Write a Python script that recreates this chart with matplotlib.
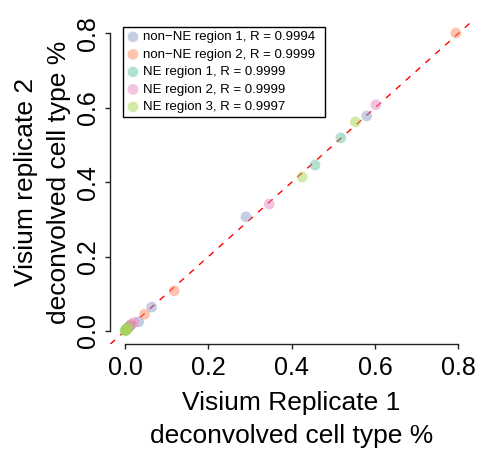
import matplotlib
matplotlib.use('Agg')
import matplotlib.pyplot as plt

plt.rcParams['font.family'] = ['Liberation Sans', 'DejaVu Sans']

# deconvolved cell type fractions, replicate 1 (x) vs replicate 2 (y)
region_labels = [
    'non\u2212NE region 1, R = 0.9994',
    'non\u2212NE region 2, R = 0.9999',
    'NE region 1, R = 0.9999',
    'NE region 2, R = 0.9999',
    'NE region 3, R = 0.9997',
]
region_colors = ['#8DA0CB', '#FC8D62', '#66C2A5', '#E78AC3', '#A6D854']

nonne1_x = [0.580, 0.290, 0.064, 0.033, 0.012, 0.005, 0.002]
nonne1_y = [0.578, 0.307, 0.064, 0.025, 0.014, 0.006, 0.003]
nonne2_x = [0.794, 0.118, 0.047, 0.015, 0.008, 0.003]
nonne2_y = [0.801, 0.108, 0.045, 0.018, 0.009, 0.003]
ne1_x = [0.518, 0.456, 0.010, 0.004, 0.002]
ne1_y = [0.519, 0.446, 0.012, 0.005, 0.002]
ne2_x = [0.602, 0.346, 0.022, 0.013, 0.006]
ne2_y = [0.608, 0.341, 0.023, 0.015, 0.007]
ne3_x = [0.553, 0.425, 0.008, 0.004, 0.001, 0.000]
ne3_y = [0.562, 0.414, 0.009, 0.005, 0.002, 0.000]

tick_vals = [0.0, 0.2, 0.4, 0.6, 0.8]
tick_labels = ['0.0', '0.2', '0.4', '0.6', '0.8']

xs = [nonne1_x, nonne2_x, ne1_x, ne2_x, ne3_x]
ys = [nonne1_y, nonne2_y, ne1_y, ne2_y, ne3_y]

fig = plt.figure(figsize=(4.84, 4.5), dpi=100)
ax = fig.add_axes([110 / 484, 106 / 450, 363 / 484, 324 / 450])

for x, y, c, lab in zip(xs, ys, region_colors, region_labels):
    ax.scatter(x, y, s=60, color=c, alpha=0.5, edgecolors='none', label=lab, zorder=3)

ax.axline((0, 0), (1, 1), color='#FF0000', lw=1.0, linestyle=(0, (4.5, 5)), zorder=2)

ax.set_xlim(-0.036, 0.835)
ax.set_ylim(-0.035, 0.836)

for s in ['top', 'right']:
    ax.spines[s].set_visible(False)
ax.spines['left'].set_bounds(0, 0.8)
ax.spines['bottom'].set_bounds(0, 0.8)
for s in ['left', 'bottom']:
    ax.spines[s].set_linewidth(1.0)
    ax.spines[s].set_color('#222222')

ax.set_xticks(tick_vals)
ax.set_xticklabels(tick_labels)
ax.set_yticks(tick_vals)
ax.set_yticklabels(tick_labels, rotation=90, va='center')
ax.tick_params(axis='both', length=3.5, width=1.0, color='#222222', labelsize=18)
ax.tick_params(axis='x', pad=5)
ax.tick_params(axis='y', pad=4)

# axis titles, two lines each, centred on the plot region
fig.text(291.5 / 484, 1 - 410 / 450, 'Visium Replicate 1', fontsize=19, ha='center', va='baseline')
fig.text(291.5 / 484, 1 - 443 / 450, 'deconvolved cell type %', fontsize=19, ha='center', va='baseline')
fig.text(33 / 484, 1 - 182 / 450, 'Visium replicate 2', fontsize=19, ha='center', va='baseline',
         rotation=90, rotation_mode='anchor')
fig.text(66 / 484, 1 - 182 / 450, 'deconvolved cell type %', fontsize=19, ha='center', va='baseline',
         rotation=90, rotation_mode='anchor')

leg = ax.legend(loc='upper left', bbox_to_anchor=(0.036, 0.5, 0.556, 0.478), mode='expand',
                fontsize=9.5, frameon=True, fancybox=False, edgecolor='black', framealpha=1,
                borderpad=0.3, handlelength=0.9, handletextpad=0.3, labelspacing=0.4,
                borderaxespad=0)
leg.get_frame().set_linewidth(1.0)

fig.savefig('out.png', dpi=100)
